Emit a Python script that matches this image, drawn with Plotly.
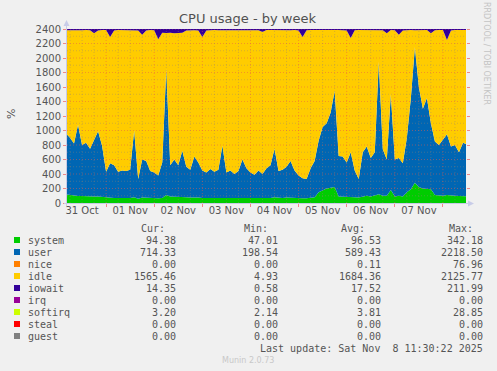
import pandas as pd
import plotly.graph_objects as go

# ---------------- data ----------------
START = "2025-10-31 04:00"
STEP_HOURS = 2
TOTAL = 2400

system = [120, 110, 100, 95, 95, 90, 90, 90, 90, 85,
          70, 70, 70, 70, 70, 65, 70, 80, 60, 75,
          70, 70, 65, 65, 70, 110, 90, 90, 85, 90,
          80, 75, 80, 75, 70, 70, 70, 70, 70, 70,
          70, 70, 65, 70, 70, 70, 70, 70, 70, 75,
          70, 70, 80, 70, 70, 75, 70, 70, 70, 65,
          65, 70, 80, 150, 180, 200, 210, 220, 90, 90,
          85, 90, 80, 75, 90, 100, 90, 100, 120, 100,
          100, 180, 90, 100, 90, 150, 190, 280, 220, 200,
          190, 190, 110, 100, 100, 110, 100, 100, 95, 95, 94]

user = [840, 790, 720, 985, 705, 740, 660, 790, 900, 705,
        360, 480, 450, 360, 380, 375, 390, 920, 270, 525,
        510, 370, 355, 315, 490, 1740, 430, 510, 435, 630,
        420, 385, 560, 485, 380, 350, 400, 360, 390, 720,
        350, 380, 335, 370, 530, 410, 350, 320, 380, 325,
        410, 450, 670, 370, 390, 425, 510, 380, 310, 275,
        265, 410, 500, 710, 870, 900, 1040, 1330, 560, 550,
        475, 610, 370, 255, 610, 680, 530, 600, 1830, 640,
        500, 1320, 510, 520, 460, 750, 1260, 1870, 1380, 1100,
        1260, 910, 740, 700, 780, 840, 680, 700, 605, 735, 716]

iowait = [18, 15, 20, 14, 16, 15, 18, 60, 20, 15,
          14, 110, 20, 15, 14, 16, 15, 18, 20, 80,
          20, 15, 18, 140, 50, 55, 50, 60, 50, 50,
          20, 15, 18, 20, 110, 20, 15, 14, 16, 15,
          14, 15, 16, 14, 15, 18, 15, 14, 16, 40,
          15, 14, 16, 15, 14, 15, 16, 15, 20, 110,
          18, 15, 14, 15, 16, 15, 14, 16, 15, 18,
          20, 125, 18, 15, 14, 15, 16, 15, 14, 18,
          60, 15, 18, 80, 20, 15, 14, 16, 15, 14,
          15, 60, 16, 14, 15, 150, 20, 15, 14, 16, 14]

idle = [TOTAL - s - u - w for s, u, w in zip(system, user, iowait)]

x_range = ["2025-10-31 04:30", "2025-11-08 11:30"]
day_label_vals = ["2025-10-31 12:00", "2025-11-01 12:00", "2025-11-02 12:00",
                  "2025-11-03 12:00", "2025-11-04 12:00", "2025-11-05 12:00",
                  "2025-11-06 12:00", "2025-11-07 12:00"]
day_labels = ["31 Oct", "01 Nov", "02 Nov", "03 Nov", "04 Nov", "05 Nov",
              "06 Nov", "07 Nov"]
y_ticks = list(range(0, 2401, 200))

legend_names = ["system", "user", "nice", "idle", "iowait", "irq",
                "softirq", "steal", "guest"]
legend_colors = ["#00CC00", "#0066B3", "#FF8000", "#FFCC00", "#330099",
                 "#990099", "#CCFF00", "#FF0000", "#808080"]
cur_vals = [94.38, 714.33, 0.00, 1565.46, 14.35, 0.00, 3.20, 0.00, 0.00]
min_vals = [47.01, 198.54, 0.00, 4.93, 0.58, 0.00, 2.14, 0.00, 0.00]
avg_vals = [96.53, 589.43, 0.11, 1684.36, 17.52, 0.00, 3.81, 0.00, 0.00]
max_vals = [342.18, 2218.50, 76.96, 2125.77, 211.99, 0.00, 28.85, 0.00, 0.00]

times = pd.date_range(START, periods=len(system), freq=f"{STEP_HOURS}h")

# ---------------- figure ----------------
W, H = 497, 371
L, R, T, B = 67, 466, 29, 203


def px(x):
    return (x - L) / (R - L)


def py(y):
    return (B - y) / (B - T)


fig = go.Figure()
series = [("system", system, "#00CC00"), ("user", user, "#0066B3"),
          ("idle", idle, "#FFCC00"), ("iowait", iowait, "#330099")]
for name, vals, col in series:
    fig.add_trace(go.Scatter(x=times, y=vals, name=name, mode="lines",
                             stackgroup="one", line=dict(width=0, color=col),
                             fillcolor=col, hoverinfo="skip"))

TXT = "#555555"
fig.update_layout(
    width=W, height=H,
    margin=dict(l=L, r=W - R, t=T, b=H - B),
    paper_bgcolor="#F0F0F0", plot_bgcolor="#FFFFFF",
    showlegend=False,
    font=dict(family="DejaVu Sans", size=10, color=TXT),
)
fig.update_xaxes(range=x_range, showgrid=False, zeroline=False,
                 tickvals=day_label_vals, ticktext=day_labels, ticks="",
                 tickfont=dict(family="DejaVu Sans", size=10, color=TXT),
                 showline=False,
                 minor=dict(ticks="outside", ticklen=3, tickcolor="rgba(240,110,110,0.8)",
                            dtick=86400000, tick0="2025-11-01 00:00", showgrid=False))
fig.update_yaxes(range=[0, 2400], showgrid=False, zeroline=False,
                 tickvals=y_ticks, ticks="outside", ticklen=3,
                 tickcolor="rgba(240,110,110,0.8)", mirror="ticks",
                 showline=False,
                 tickfont=dict(family="DejaVu Sans", size=10, color=TXT))

# grid on top of the areas (rrdtool style)
MINOR = "rgba(150,130,110,0.4)"
MAJOR = "rgba(235,90,70,0.5)"
for v in range(100, 2401, 100):
    fig.add_shape(type="line", xref="paper", yref="y", x0=0, x1=1, y0=v, y1=v,
                  line=dict(color=MAJOR if v % 200 == 0 else MINOR, width=1, dash="1px,2px"),
                  layer="above")
for t in pd.date_range("2025-10-31 06:00", "2025-11-08 06:00", freq="6h"):
    fig.add_shape(type="line", xref="x", yref="paper", x0=t, x1=t, y0=0, y1=1,
                  line=dict(color=MAJOR if t.hour == 0 else MINOR, width=1, dash="1px,2px"),
                  layer="above")

# axes lines & arrows
AX = "#C8CCE8"
fig.add_shape(type="line", xref="paper", yref="paper", x0=px(66.5), x1=px(66.5),
              y0=py(206), y1=py(24), line=dict(color=AX, width=1), layer="above")
fig.add_shape(type="line", xref="paper", yref="paper", x0=px(64), x1=px(470),
              y0=py(203.5), y1=py(203.5), line=dict(color=AX, width=1), layer="above")
fig.add_shape(type="path", xref="paper", yref="paper",
              path=f"M {px(63.5)} {py(26)} L {px(69.5)} {py(26)} L {px(66.5)} {py(20)} Z",
              fillcolor=AX, line=dict(width=0), layer="above")
fig.add_shape(type="path", xref="paper", yref="paper",
              path=f"M {px(468)} {py(200.5)} L {px(468)} {py(206.5)} L {px(474)} {py(203.5)} Z",
              fillcolor=AX, line=dict(width=0), layer="above")


def ann(x, y, text, xanchor="left", size=10, color=TXT, family="DejaVu Sans Mono", angle=0):
    fig.add_annotation(x=px(x), y=py(y), xref="paper", yref="paper", text=text,
                       showarrow=False, xanchor=xanchor, yanchor="middle",
                       textangle=angle, borderpad=0,
                       font=dict(family=family, size=size, color=color))


ann(247.5, 19, "CPU usage - by week", xanchor="center", size=13,
    family="DejaVu Sans", color="#505050")
ann(11, 114, "%", xanchor="center", size=11, family="DejaVu Sans", angle=-90)
ann(487, 53, "RRDTOOL / TOBI OETIKER", xanchor="center", size=8,
    family="DejaVu Sans", color="#C4C4C4", angle=90)

# legend table
ann(140, 228, "Cur:")
ann(243, 228, "Min:")
ann(340, 228, "Avg:")
ann(448, 228, "Max:")
for k, name in enumerate(legend_names):
    yrow = 240 + 12 * k
    fig.add_shape(type="rect", xref="paper", yref="paper",
                  x0=px(14), x1=px(20), y0=py(yrow + 3), y1=py(yrow - 3),
                  fillcolor=legend_colors[k], line=dict(width=0))
    ann(27, yrow, name)
    ann(177, yrow, f"{cur_vals[k]:.2f}", xanchor="right")
    ann(279, yrow, f"{min_vals[k]:.2f}", xanchor="right")
    ann(382, yrow, f"{avg_vals[k]:.2f}", xanchor="right")
    ann(484, yrow, f"{max_vals[k]:.2f}", xanchor="right")
ann(484, 348, "Last update: Sat Nov  8 11:30:22 2025".replace(" ", "&nbsp;"), xanchor="right")
ann(248, 360, "Munin 2.0.73", xanchor="center", size=8, family="DejaVu Sans", color="#C8C8C8")

fig.write_html("out.html", config={"displayModeBar": False},
               post_script="document.body.style.margin='0px';document.body.style.overflow='hidden';")
